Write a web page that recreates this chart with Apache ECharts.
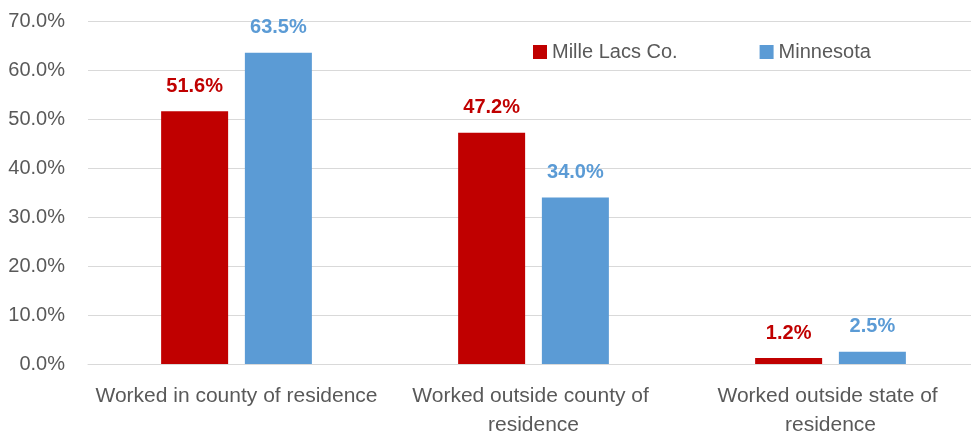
<!DOCTYPE html>
<html><head><meta charset="utf-8">
<script src="https://cdn.jsdelivr.net/npm/echarts@6/dist/echarts.min.js"></script>
<style>html,body{margin:0;padding:0;background:#fff;overflow:hidden}#c{width:971px;height:433px}</style>
</head><body><div id="c"></div>
<script>
const categories = ["Worked in county of residence", "Worked outside county of residence", "Worked outside state of residence"];
const seriesNames = ["Mille Lacs Co.", "Minnesota"];
const milleLacs = [51.6, 47.2, 1.2];
const minnesota = [63.5, 34.0, 2.5];
const yTicks = [0, 10, 20, 30, 40, 50, 60, 70];

const FONT = "Liberation Sans";
const chart = echarts.init(document.getElementById('c'));
function lbl(color){
  return {show:true, position:'top', distance:15, color:color, fontWeight:'bold', fontSize:20, fontFamily:FONT,
    formatter: p => p.value.toFixed(1) + '%'};
}
chart.setOption({
  animation:false,
  textStyle:{fontFamily:FONT},
  grid:{left:88, right:-8, top:21, bottom:69, outerBoundsMode:'none', containLabel:false},
  legend:{left:528, top:37, itemWidth:14, itemHeight:14, itemGap:82, icon:'rect',
    textStyle:{color:'#595959', fontSize:20, fontFamily:FONT}, data:seriesNames},
  xAxis:{type:'category', data:categories,
    axisLine:{show:true, lineStyle:{color:'#d9d9d9', width:1}},
    axisTick:{show:false},
    axisLabel:{interval:0, color:'#595959', fontSize:21, fontFamily:FONT, margin:18, lineHeight:29,
      width:296, overflow:'break'}},
  yAxis:{type:'value', min:yTicks[0], max:yTicks[yTicks.length-1], interval:10,
    axisLine:{show:false}, axisTick:{show:false},
    splitLine:{lineStyle:{color:'#d9d9d9', width:1}},
    axisLabel:{color:'#595959', fontSize:20, fontFamily:FONT, margin:23, formatter: v => v.toFixed(1) + '%'}},
  series:[
    {name:seriesNames[0], type:'bar', data:milleLacs, barWidth:67, barGap:'25%',
      itemStyle:{color:'#C00000'}, label:lbl('#C00000')},
    {name:seriesNames[1], type:'bar', data:minnesota, barWidth:67,
      itemStyle:{color:'#5B9BD5'}, label:lbl('#5B9BD5')}
  ]
});
</script></body></html>
